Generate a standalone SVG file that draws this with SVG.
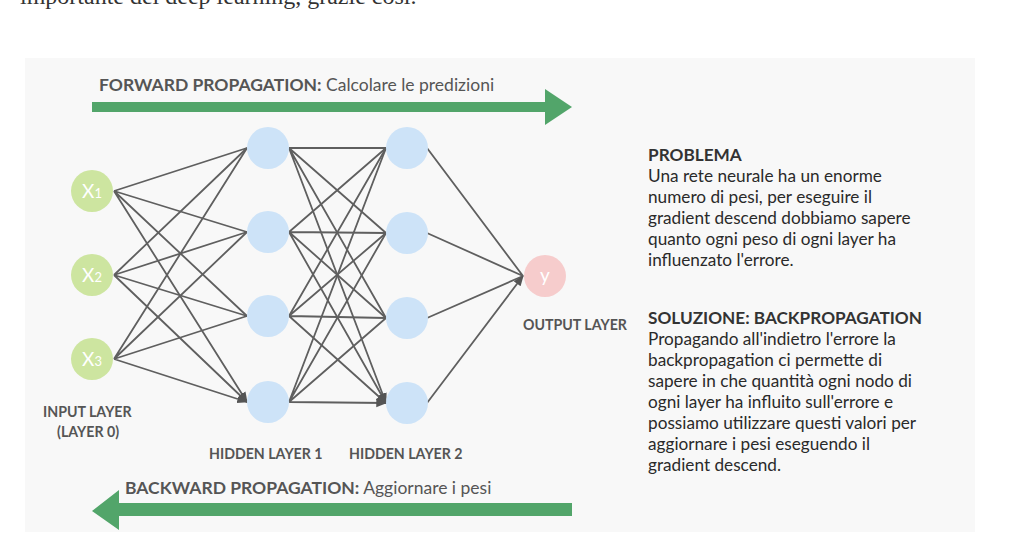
<svg xmlns="http://www.w3.org/2000/svg" width="1024" height="552" viewBox="0 0 1024 552">
<defs>
<marker id="ah" viewBox="0 0 10 10" refX="9" refY="5" markerWidth="6" markerHeight="6" orient="auto"><path d="M0,1 L10,5 L0,9 z" fill="#555"/></marker>
<style>
.e{stroke:#5f5f5f;stroke-width:1.8;fill:none;marker-end:url(#ah)}
.in{fill:#cde5a0}.hid{fill:#cde3f8}.out{fill:#f6cccc}
.nl{font-family:Lato,"Liberation Sans",sans-serif;fill:#fff;font-size:19px;text-anchor:middle}
.lb{font-family:Lato,"Liberation Sans",sans-serif;fill:#555;font-size:14.2px;font-weight:bold}
.h{font-family:Lato,"Liberation Sans",sans-serif;fill:#555;font-size:17.5px}
.t{font-family:Lato,"Liberation Sans",sans-serif;fill:#2a2a2a;font-size:17.2px}
.tb{font-weight:bold;fill:#333}
</style>
</defs>
<rect width="1024" height="552" fill="#fff"/>
<text x="20" y="4" font-family="'Liberation Serif',serif" font-size="24" fill="#333">importante del deep learning, grazie così.</text>
<rect x="25" y="58" width="950" height="474" fill="#f8f8f8"/>
<g id="forward">
<text x="99" y="91" class="h"><tspan font-weight="bold">FORWARD PROPAGATION:</tspan> Calcolare le predizioni</text>
<polygon points="92,102 545,102 545,89 572,107 545,125 545,112 92,112" fill="#52a56a"/>
</g>
<g id="backward">
<text x="125" y="494" class="h"><tspan font-weight="bold">BACKWARD PROPAGATION:</tspan> Aggiornare i pesi</text>
<polygon points="572,503 119,503 119,490 92,511 119,530 119,516 572,516" fill="#52a56a"/>
</g>
<g id="connectors">
<path class="e" d="M114,191L247,148M114,191L247,232M114,191L247,316M114,191L247,402"/>
<path class="e" d="M114,275L247,148M114,275L247,232M114,275L247,316M114,275L247,402"/>
<path class="e" d="M114,359L247,148M114,359L247,232M114,359L247,316M114,359L247,402"/>
<path class="e" d="M289,148L386,148M289,148L386,233M289,148L386,318M289,148L386,403"/>
<path class="e" d="M289,232L386,148M289,232L386,233M289,232L386,318M289,232L386,403"/>
<path class="e" d="M289,316L386,148M289,316L386,233M289,316L386,318M289,316L386,403"/>
<path class="e" d="M289,402L386,148M289,402L386,233M289,402L386,318M289,402L386,403"/>
<path class="e" d="M427,148L523,276M427,233L523,276M427,318L523,276M427,403L523,276"/>
</g>
<g id="x1"><circle cx="92" cy="191" r="21" class="in"/><text x="92" y="198" class="nl">X<tspan font-size="13">1</tspan></text></g>
<g id="x2"><circle cx="92" cy="275" r="21" class="in"/><text x="92" y="282" class="nl">X<tspan font-size="13">2</tspan></text></g>
<g id="x3"><circle cx="92" cy="359" r="21" class="in"/><text x="92" y="366" class="nl">X<tspan font-size="13">3</tspan></text></g>
<g id="h1a"><circle cx="268" cy="148" r="21" class="hid"/></g>
<g id="h1b"><circle cx="268" cy="232" r="21" class="hid"/></g>
<g id="h1c"><circle cx="268" cy="316" r="21" class="hid"/></g>
<g id="h1d"><circle cx="268" cy="402" r="21" class="hid"/></g>
<g id="h2a"><circle cx="407" cy="148" r="21" class="hid"/></g>
<g id="h2b"><circle cx="407" cy="233" r="21" class="hid"/></g>
<g id="h2c"><circle cx="407" cy="318" r="21" class="hid"/></g>
<g id="h2d"><circle cx="407" cy="403" r="21" class="hid"/></g>
<g id="y"><circle cx="545" cy="276" r="21" class="out"/><text x="545" y="282" class="nl">y</text></g>
<g id="labels">
<text x="43" y="417" class="lb">INPUT LAYER</text>
<text x="57" y="437" class="lb">(LAYER 0)</text>
<text x="209" y="459" class="lb">HIDDEN LAYER 1</text>
<text x="349" y="459" class="lb">HIDDEN LAYER 2</text>
<text x="523" y="330" class="lb">OUTPUT LAYER</text>
</g>
<g id="problema">
<text class="t"><tspan x="648" y="161" class="tb">PROBLEMA</tspan><tspan x="648" y="182">Una rete neurale ha un enorme</tspan><tspan x="648" y="203">numero di pesi,  per eseguire il</tspan><tspan x="648" y="224">gradient descend dobbiamo sapere</tspan><tspan x="648" y="245">quanto ogni peso di ogni layer ha</tspan><tspan x="648" y="266">influenzato l'errore.</tspan></text>
</g>
<g id="soluzione">
<text class="t"><tspan x="648" y="324" class="tb">SOLUZIONE: BACKPROPAGATION</tspan><tspan x="648" y="345">Propagando all'indietro l'errore la</tspan><tspan x="648" y="366">backpropagation  ci permette di</tspan><tspan x="648" y="387">sapere in che quantità ogni nodo di</tspan><tspan x="648" y="408">ogni layer ha influito sull'errore e</tspan><tspan x="648" y="429">possiamo utilizzare questi valori per</tspan><tspan x="648" y="450">aggiornare i pesi eseguendo il</tspan><tspan x="648" y="471">gradient descend.</tspan></text>
</g>
</svg>
